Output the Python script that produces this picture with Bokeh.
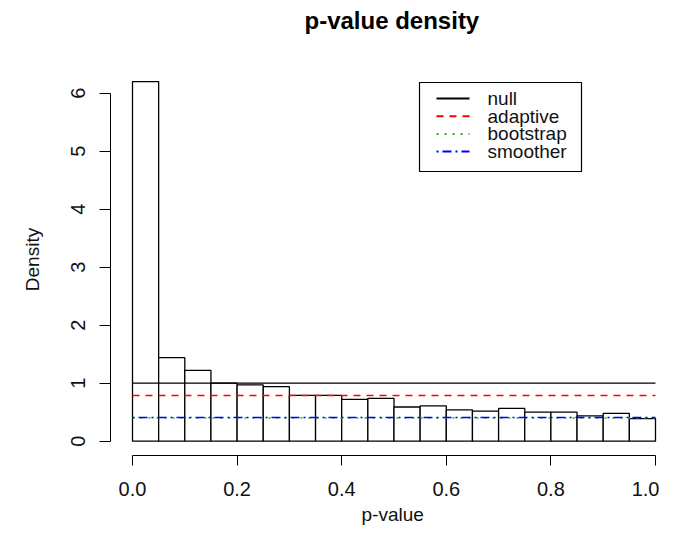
from bokeh.plotting import figure
from bokeh.models import FixedTicker, PrintfTickFormatter, Title, ColumnDataSource
from bokeh.core.properties import value
from bokeh.embed import file_html
from bokeh.resources import INLINE

# ---- data ----
bin_left = [0.00, 0.05, 0.10, 0.15, 0.20, 0.25, 0.30, 0.35, 0.40, 0.45,
            0.50, 0.55, 0.60, 0.65, 0.70, 0.75, 0.80, 0.85, 0.90, 0.95]
bin_right = [0.05, 0.10, 0.15, 0.20, 0.25, 0.30, 0.35, 0.40, 0.45, 0.50,
             0.55, 0.60, 0.65, 0.70, 0.75, 0.80, 0.85, 0.90, 0.95, 1.00]
density = [6.20, 1.44, 1.22, 1.00, 0.97, 0.94, 0.79, 0.79, 0.72, 0.74,
           0.59, 0.61, 0.54, 0.52, 0.565, 0.50, 0.50, 0.435, 0.48, 0.39]

series_names = ["null", "adaptive", "bootstrap", "smoother"]
series_levels = [1.00, 0.79, 0.40, 0.41]
series_colors = ["#000000", "#FF0000", "#00CD00", "#0000FF"]
series_dashes = ["solid", "7 6", "2 6", "2 4 9 4"]

x_ticks = [0.0, 0.2, 0.4, 0.6, 0.8, 1.0]
y_ticks = [0, 1, 2, 3, 4, 5, 6]

# ---- layout (canvas pixels) ----
W, H = 659, 532
FL, FR, FT, FB = 110, 659, 63, 455
PX_X = 523.0   # px per x unit
PX_Y = 58.0    # px per y unit
X_ZERO = 132.0
Y_ZERO = 440.7
X0, X1 = (FL - X_ZERO) / PX_X, (FR - X_ZERO) / PX_X
Y0, Y1 = (Y_ZERO - FB) / PX_Y, (Y_ZERO - FT) / PX_Y


def dx(cx):
    return (cx - X_ZERO) / PX_X


def dy(cy):
    return (Y_ZERO - cy) / PX_Y


FONT = "Liberation Sans"

p = figure(width=W, height=H, output_backend="svg", toolbar_location=None,
           x_range=(X0, X1), y_range=(Y0, Y1),
           min_border_left=FL, min_border_right=W - FR,
           min_border_top=FT, min_border_bottom=H - FB)
p.outline_line_color = None
p.xgrid.visible = False
p.ygrid.visible = False
p.background_fill_color = "white"
p.border_fill_color = "white"

# spacer between frame and main title (keeps the title high like R's)
p.add_layout(Title(text=" ", text_font=FONT, text_font_size="10px", standoff=17), "above")
# main title (outermost)
p.title = Title(text="p-value density", align="left", offset=194, standoff=0,
                text_font=FONT, text_font_size="24px", text_font_style="bold",
                text_color="#000000")

# histogram bars
src = ColumnDataSource(dict(left=bin_left, right=bin_right, top=density,
                            bottom=[0] * len(density)))
p.quad(left="left", right="right", top="top", bottom="bottom", source=src,
       fill_color="white", line_color="#000000", line_width=1.3)

# reference lines
for name, lev, col, dash in zip(series_names, series_levels, series_colors, series_dashes):
    p.segment(x0=[0.0], x1=[1.0], y0=[lev], y1=[lev], line_color=col,
              line_width=1.5 if name != "null" else 1.3, line_dash=dash)

# axes in R style
for ax in p.xaxis:
    ax.ticker = FixedTicker(ticks=x_ticks)
    ax.formatter = PrintfTickFormatter(format="%.1f")
    ax.bounds = (0, 1)
    ax.major_tick_out = 10
    ax.major_tick_in = 0
    ax.minor_tick_out = 0
    ax.minor_tick_in = 0
    ax.major_label_standoff = 16
    ax.major_label_text_font = FONT
    ax.major_label_text_font_size = "20px"
    ax.major_label_text_color = "#111111"
    ax.axis_line_color = "#000000"
    ax.major_tick_line_color = "#000000"

for ax in p.yaxis:
    ax.ticker = FixedTicker(ticks=y_ticks)
    ax.bounds = (0, 6)
    ax.major_tick_out = 11
    ax.major_tick_in = 0
    ax.minor_tick_out = 0
    ax.minor_tick_in = 0
    ax.major_label_standoff = 14
    ax.major_label_orientation = "vertical"
    ax.major_label_text_font = FONT
    ax.major_label_text_font_size = "20px"
    ax.major_label_text_color = "#111111"
    ax.axis_line_color = "#000000"
    ax.major_tick_line_color = "#000000"
    ax.axis_label = "Density"
    ax.axis_label_standoff = 26
    ax.axis_label_text_font = FONT
    ax.axis_label_text_font_size = "19px"
    ax.axis_label_text_font_style = "normal"
    ax.axis_label_text_color = "#111111"

# x axis label as a title below, positioned like R
p.add_layout(Title(text="p-value", align="left", offset=251, standoff=6,
                   text_font=FONT, text_font_size="19px", text_font_style="normal",
                   text_color="#111111"), "below")

# legend (R style box) drawn in the plot
p.quad(left=[dx(419)], right=[dx(581)], top=[dy(82)], bottom=[dy(171)],
       fill_color="white", line_color="#000000", line_width=1.2)
for i, (name, col, dash) in enumerate(zip(series_names, series_colors, series_dashes)):
    cy = 98 + i * 17.7
    p.segment(x0=[dx(436)], x1=[dx(469)], y0=[dy(cy)], y1=[dy(cy)], line_color=col,
              line_width=2, line_dash=dash)
    p.text(x=[dx(487)], y=[dy(cy)], text=[name], text_font=value(FONT),
           text_font_size="19px", text_baseline="middle", text_align="left",
           text_color="#111111")

open("out.html", "w").write(file_html(p, INLINE))
